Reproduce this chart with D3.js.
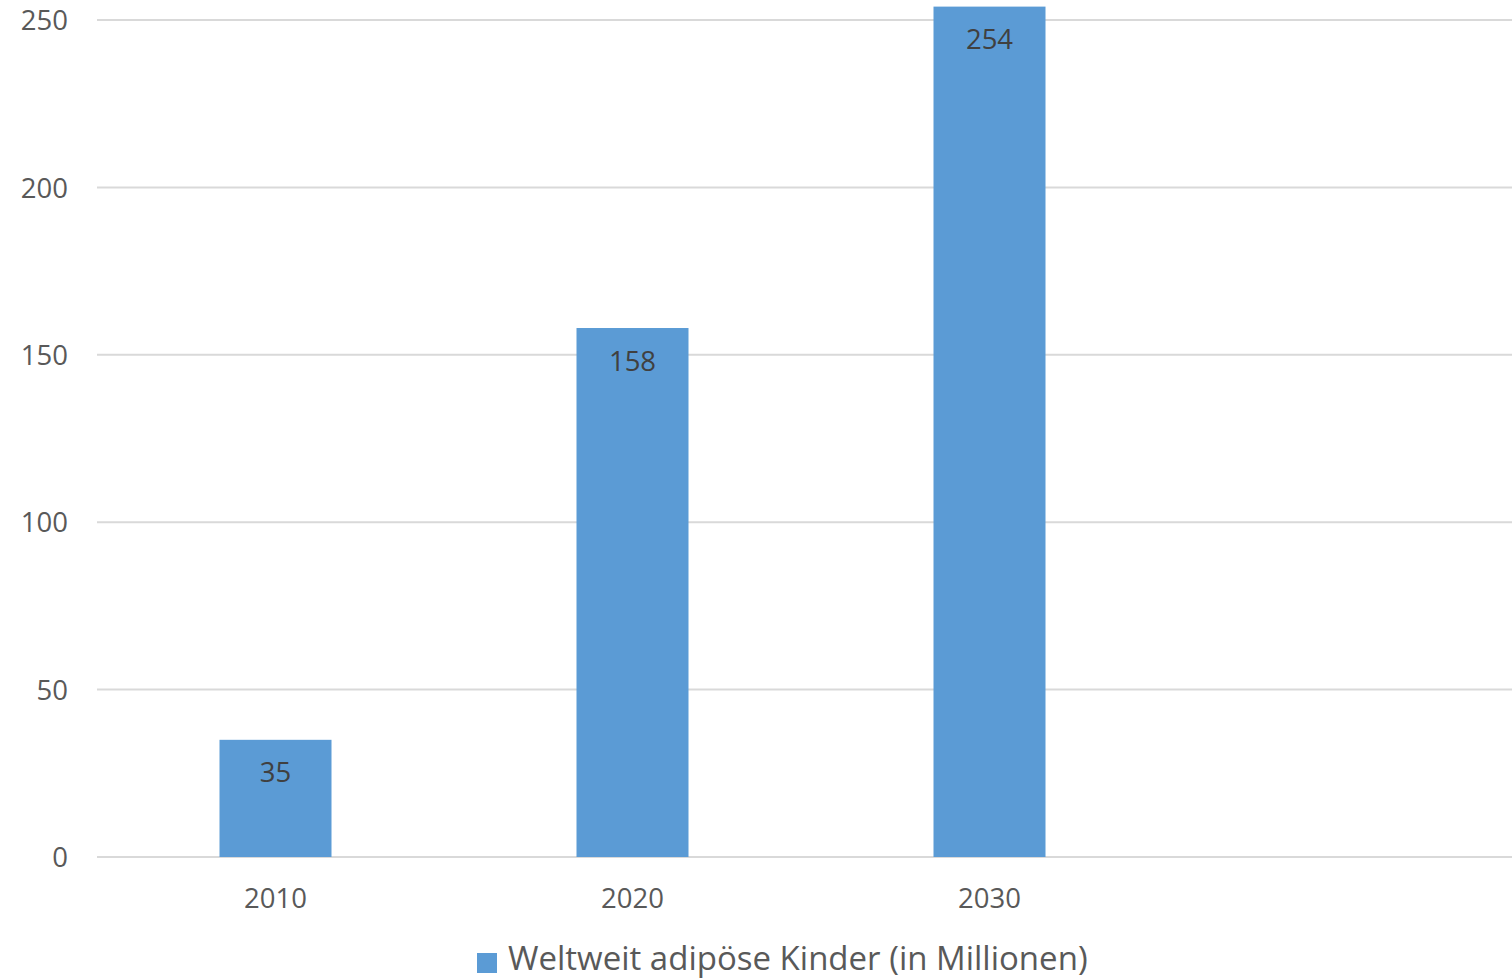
<!DOCTYPE html>
<html><head><meta charset="utf-8">
<script src="https://cdn.jsdelivr.net/npm/d3@7"></script>
<style>html,body{margin:0;padding:0;background:#fff;overflow:hidden}</style>
</head><body>
<svg id="c" width="1512" height="980"></svg>
<script>
const categories = ["2010", "2020", "2030", ""];
const values = [35, 158, 254, null];
const yTicks = [0, 50, 100, 150, 200, 250];
const seriesName = "Weltweit adipöse Kinder (in Millionen)";

const svg = d3.select("#c");
const FONT = "'Open Sans', sans-serif";
const pLeft = 97, pRight = 1512, pTop = 20, pBottom = 857;
const band = d3.scaleBand().domain(categories.map((c,i)=>i)).range([pLeft, 1525]);
const y = d3.scaleLinear().domain([0, 250]).range([pBottom, pTop]);

// gridlines
svg.append("g").selectAll("line").data(yTicks).join("line")
  .attr("x1", pLeft).attr("x2", pRight)
  .attr("y1", d=>y(d)).attr("y2", d=>y(d))
  .attr("stroke", "#d9d9d9").attr("stroke-width", 2);

// y axis labels
const yAxis = d3.axisLeft(y).tickValues(yTicks).tickSize(0).tickPadding(0);
const gy = svg.append("g").attr("transform", `translate(68,0)`).call(yAxis);
gy.select(".domain").remove();
gy.selectAll("text").attr("font-family", FONT).attr("font-size", 27.5).attr("fill", "#595959").attr("dy", "0.35em");

// bars
const data = categories.map((c,i)=>({i, c, v: values[i]})).filter(d=>d.v!=null);
const bw = 112;
svg.append("g").selectAll("rect").data(data).join("rect")
  .attr("x", d=>band(d.i)+band.bandwidth()/2 - bw/2)
  .attr("width", bw)
  .attr("y", d=>y(d.v))
  .attr("height", d=>y(0)-y(d.v))
  .attr("fill", "#5b9bd5");

// data labels
svg.append("g").selectAll("text").data(data).join("text")
  .attr("x", d=>band(d.i)+band.bandwidth()/2)
  .attr("y", d=>y(d.v)+33)
  .attr("dy", "0.35em")
  .attr("text-anchor", "middle")
  .attr("font-family", FONT).attr("font-size", 27.5).attr("fill", "#404040")
  .text(d=>d.v);

// x axis labels
const xAxis = d3.axisBottom(band).tickFormat(i=>categories[i]).tickSize(0).tickPadding(0);
const gx = svg.append("g").attr("transform", `translate(0,898)`).call(xAxis);
gx.select(".domain").remove();
gx.selectAll("text").attr("font-family", FONT).attr("font-size", 27.5).attr("fill", "#595959").attr("dy", "0.35em");

// legend
const lg = svg.append("g");
lg.append("rect").attr("x", 477).attr("y", 953).attr("width", 20).attr("height", 20).attr("fill", "#5b9bd5");
lg.append("text").attr("x", 508).attr("y", 970)
  .attr("font-family", FONT).attr("font-size", 33).attr("fill", "#595959").text(seriesName);
</script>
</body></html>
